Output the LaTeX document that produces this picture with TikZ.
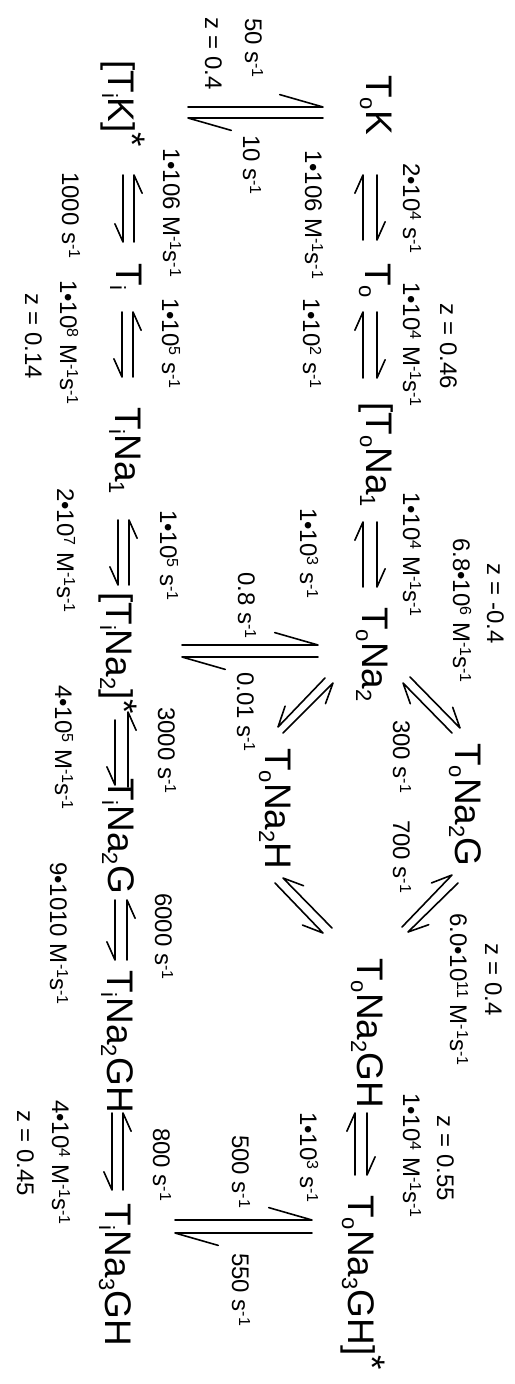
\documentclass[tikz,border=0pt]{standalone}
\usepackage{fontspec}
\setmainfont{Liberation Sans}
\usetikzlibrary{calc}
\newcommand{\ssub}[1]{\raisebox{-6pt}{\fontsize{22}{22}\selectfont #1}}
\newcommand{\ssup}[1]{\raisebox{7pt}{\fontsize{16}{16}\selectfont #1}}
\newcommand{\sstar}[1]{\raisebox{#1}{*}}
% #1 name, #2 tail, #3 tip, #4 barb angle (signed), #5 barb length
\newcommand{\harpoon}[5]{%
  \coordinate (#1a) at (#2);
  \coordinate (#1b) at (#3);
  \draw[harp] (#1a) -- (#1b) -- ($(#1b)!#5!#4:(#1a)$);}
\tikzset{
  species/.style={anchor=base west, inner sep=0pt, font=\fontsize{37}{40}\selectfont},
  rate/.style={anchor=base west, inner sep=0pt, font=\fontsize{24}{28}\selectfont},
  harp/.style={line width=1.6pt, line join=round, line cap=round}
}
\begin{document}
\begin{tikzpicture}
\begin{scope}[x=1pt, y=1pt, rotate=-90, transform shape]
\fill[white] (0,0) rectangle (1384,514);
\useasboundingbox (0,0) rectangle (1384,514);

% ---------- species, top row ----------
\node[species] (tok)     at (75,366)   {T\ssub{o}K};
\node[species] (to)      at (263,365)  {T\ssub{o}};
\node[species] (tona1)   at (402,366)  {[T\ssub{o}Na\ssub{1}};
\node[species] (tona2)   at (607,362)  {T\ssub{o}Na\ssub{2}};
\node[species] (tona2g)  at (743,455)  {T\ssub{o}Na\ssub{2}G};
\node[species] (tona2h)  at (748,265)  {T\ssub{o}Na\ssub{2}H};
\node[species] (tona2gh) at (958,357)  {T\ssub{o}Na\ssub{2}GH};
\node[species] (tona3gh) at (1195,348) {T\ssub{o}Na\ssub{3}GH]\sstar{11pt}};
% ---------- species, bottom row ----------
\node[species] (tik)     at (60,108)   {[T\ssub{i}K]\sstar{11pt}};
\node[species] (ti)      at (263,116)  {T\ssub{i}};
\node[species] (tina1)   at (407,115)  {T\ssub{i}Na\ssub{1}};
\node[species] (tina2)   at (592,106)  {[T\ssub{i}Na\ssub{2}]\sstar{5pt}};
\node[species] (tina2g)  at (778,108)  {T\ssub{i}Na\ssub{2}G};
\node[species] (tina2gh) at (970,107)  {T\ssub{i}Na\ssub{2}GH};
\node[species] (tina3gh) at (1203,105) {T\ssub{i}Na\ssub{3}GH};

% ---------- rate labels ----------
\node[rate] (l1)  at (163,403)  {2•10\ssup{4} s\ssup{-1}};
\node[rate] (l2)  at (282,403)  {1•10\ssup{4} M\ssup{-1}s\ssup{-1}};
\node[rate] (l3)  at (303,440)  {z = 0.46};
\node[rate] (l4)  at (492,403)  {1•10\ssup{4} M\ssup{-1}s\ssup{-1}};
\node[rate] (l5)  at (538,453)  {6.8•10\ssup{6} M\ssup{-1}s\ssup{-1}};
\node[rate] (l6)  at (563,487)  {z = -0.4};
\node[rate] (l7)  at (913,450)  {6.0•10\ssup{11} M\ssup{-1}s\ssup{-1}};
\node[rate] (l8)  at (943,485)  {z = 0.4};
\node[rate] (l9)  at (1093,403) {1•10\ssup{4} M\ssup{-1}s\ssup{-1}};
\node[rate] (l10) at (1115,437) {z = 0.55};
\node[rate] (l11) at (150,305)  {1•106 M\ssup{-1}s\ssup{-1}};
\node[rate] (l12) at (298,303)  {1•10\ssup{2} s\ssup{-1}};
\node[rate] (l13) at (508,300)  {1•10\ssup{3} s\ssup{-1}};
\node[rate] (l14) at (1112,300) {1•10\ssup{3} s\ssup{-1}};
\node[rate] (l15) at (720,393)  {300 s\ssup{-1}};
\node[rate] (l16) at (820,393)  {700 s\ssup{-1}};
\node[rate] (l17) at (18,245)   {50 s\ssup{-1}};
\node[rate] (l18) at (17,205)   {z = 0.4};
\node[rate] (l19) at (135,243)  {10 s\ssup{-1}};
\node[rate] (l20) at (572,238)  {0.8 s\ssup{-1}};
\node[rate] (l21) at (672,237)  {0.01 s\ssup{-1}};
\node[rate] (l22) at (1135,232) {500 s\ssup{-1}};
\node[rate] (l23) at (1253,232) {550 s\ssup{-1}};
\node[rate] (l24) at (148,163)  {1•106 M\ssup{-1}s\ssup{-1}};
\node[rate] (l25) at (298,162)  {1•10\ssup{5} s\ssup{-1}};
\node[rate] (l26) at (510,160)  {1•10\ssup{5} s\ssup{-1}};
\node[rate] (l27) at (707,158)  {3000 s\ssup{-1}};
\node[rate] (l28) at (893,155)  {6000 s\ssup{-1}};
\node[rate] (l29) at (1128,153) {800 s\ssup{-1}};
\node[rate] (l30) at (172,62)   {1000 s\ssup{-1}};
\node[rate] (l31) at (280,60)   {1•10\ssup{8} M\ssup{-1}s\ssup{-1}};
\node[rate] (l32) at (293,25)   {z = 0.14};
\node[rate] (l33) at (488,57)   {2•10\ssup{7} M\ssup{-1}s\ssup{-1}};
\node[rate] (l34) at (685,55)   {4•10\ssup{5} M\ssup{-1}s\ssup{-1}};
\node[rate] (l35) at (862,50)   {9•1010 M\ssup{-1}s\ssup{-1}};
\node[rate] (l36) at (1100,52)  {4•10\ssup{4} M\ssup{-1}s\ssup{-1}};
\node[rate] (l37) at (1110,17)  {z = 0.45};

% ---------- top row equilibria (barbs on left of travel) ----------
\harpoon{a1f}{175,377}{240,377}{-24}{20pt}
\harpoon{a1r}{240,363}{175,363}{-24}{20pt}
\harpoon{a2f}{312,377}{378,377}{-24}{20pt}
\harpoon{a2r}{378,363}{312,363}{-24}{20pt}
\harpoon{a3f}{522,377}{587,377}{-24}{20pt}
\harpoon{a3r}{587,363}{522,363}{-24}{20pt}
\harpoon{a4f}{1113,367}{1175,367}{-24}{20pt}
\harpoon{a4r}{1175,355}{1113,355}{-24}{20pt}

% ---------- bottom row equilibria (barbs on right of travel) ----------
\harpoon{b1r}{242,134}{175,134}{24}{20pt}
\harpoon{b1f}{175,123}{242,123}{24}{20pt}
\harpoon{b2r}{377,133}{312,133}{24}{20pt}
\harpoon{b2f}{312,122}{377,122}{24}{20pt}
\harpoon{b3r}{585,129}{520,129}{24}{20pt}
\harpoon{b3f}{520,118}{585,118}{24}{20pt}
\harpoon{b4r}{787,128}{712,128}{24}{20pt}
\harpoon{b4f}{720,115}{785,115}{24}{20pt}
\harpoon{b5r}{960,127}{900,127}{24}{20pt}
\harpoon{b5f}{900,115}{960,115}{24}{20pt}
\harpoon{b6r}{1190,123}{1113,123}{24}{20pt}
\harpoon{b6f}{1113,112}{1190,112}{24}{20pt}

% ---------- vertical equilibria ----------
\harpoon{v1u}{107,188}{107,323}{-16}{45pt}
\harpoon{v1d}{118,323}{118,188}{-16}{45pt}
\harpoon{v2u}{645,182}{645,318}{-16}{45pt}
\harpoon{v2d}{657,318}{657,182}{-16}{45pt}
\harpoon{v3u}{1220,175}{1220,312}{-16}{45pt}
\harpoon{v3d}{1233,312}{1233,175}{-16}{45pt}

% ---------- diagonal equilibria ----------
\harpoon{d1f}{677,410}{728,460}{-25}{22pt}
\harpoon{d1r}{733,452}{683,403}{-25}{22pt}
\harpoon{d2f}{678,325}{727,278}{25}{22pt}
\harpoon{d2r}{733,283}{683,333}{25}{22pt}
\harpoon{d3f}{883,275}{933,323}{25}{22pt}
\harpoon{d3r}{928,332}{878,283}{25}{22pt}
\harpoon{d4f}{883,458}{932,408}{-25}{22pt}
\harpoon{d4r}{927,402}{875,452}{-25}{22pt}
\end{scope}
\end{tikzpicture}
\end{document}
